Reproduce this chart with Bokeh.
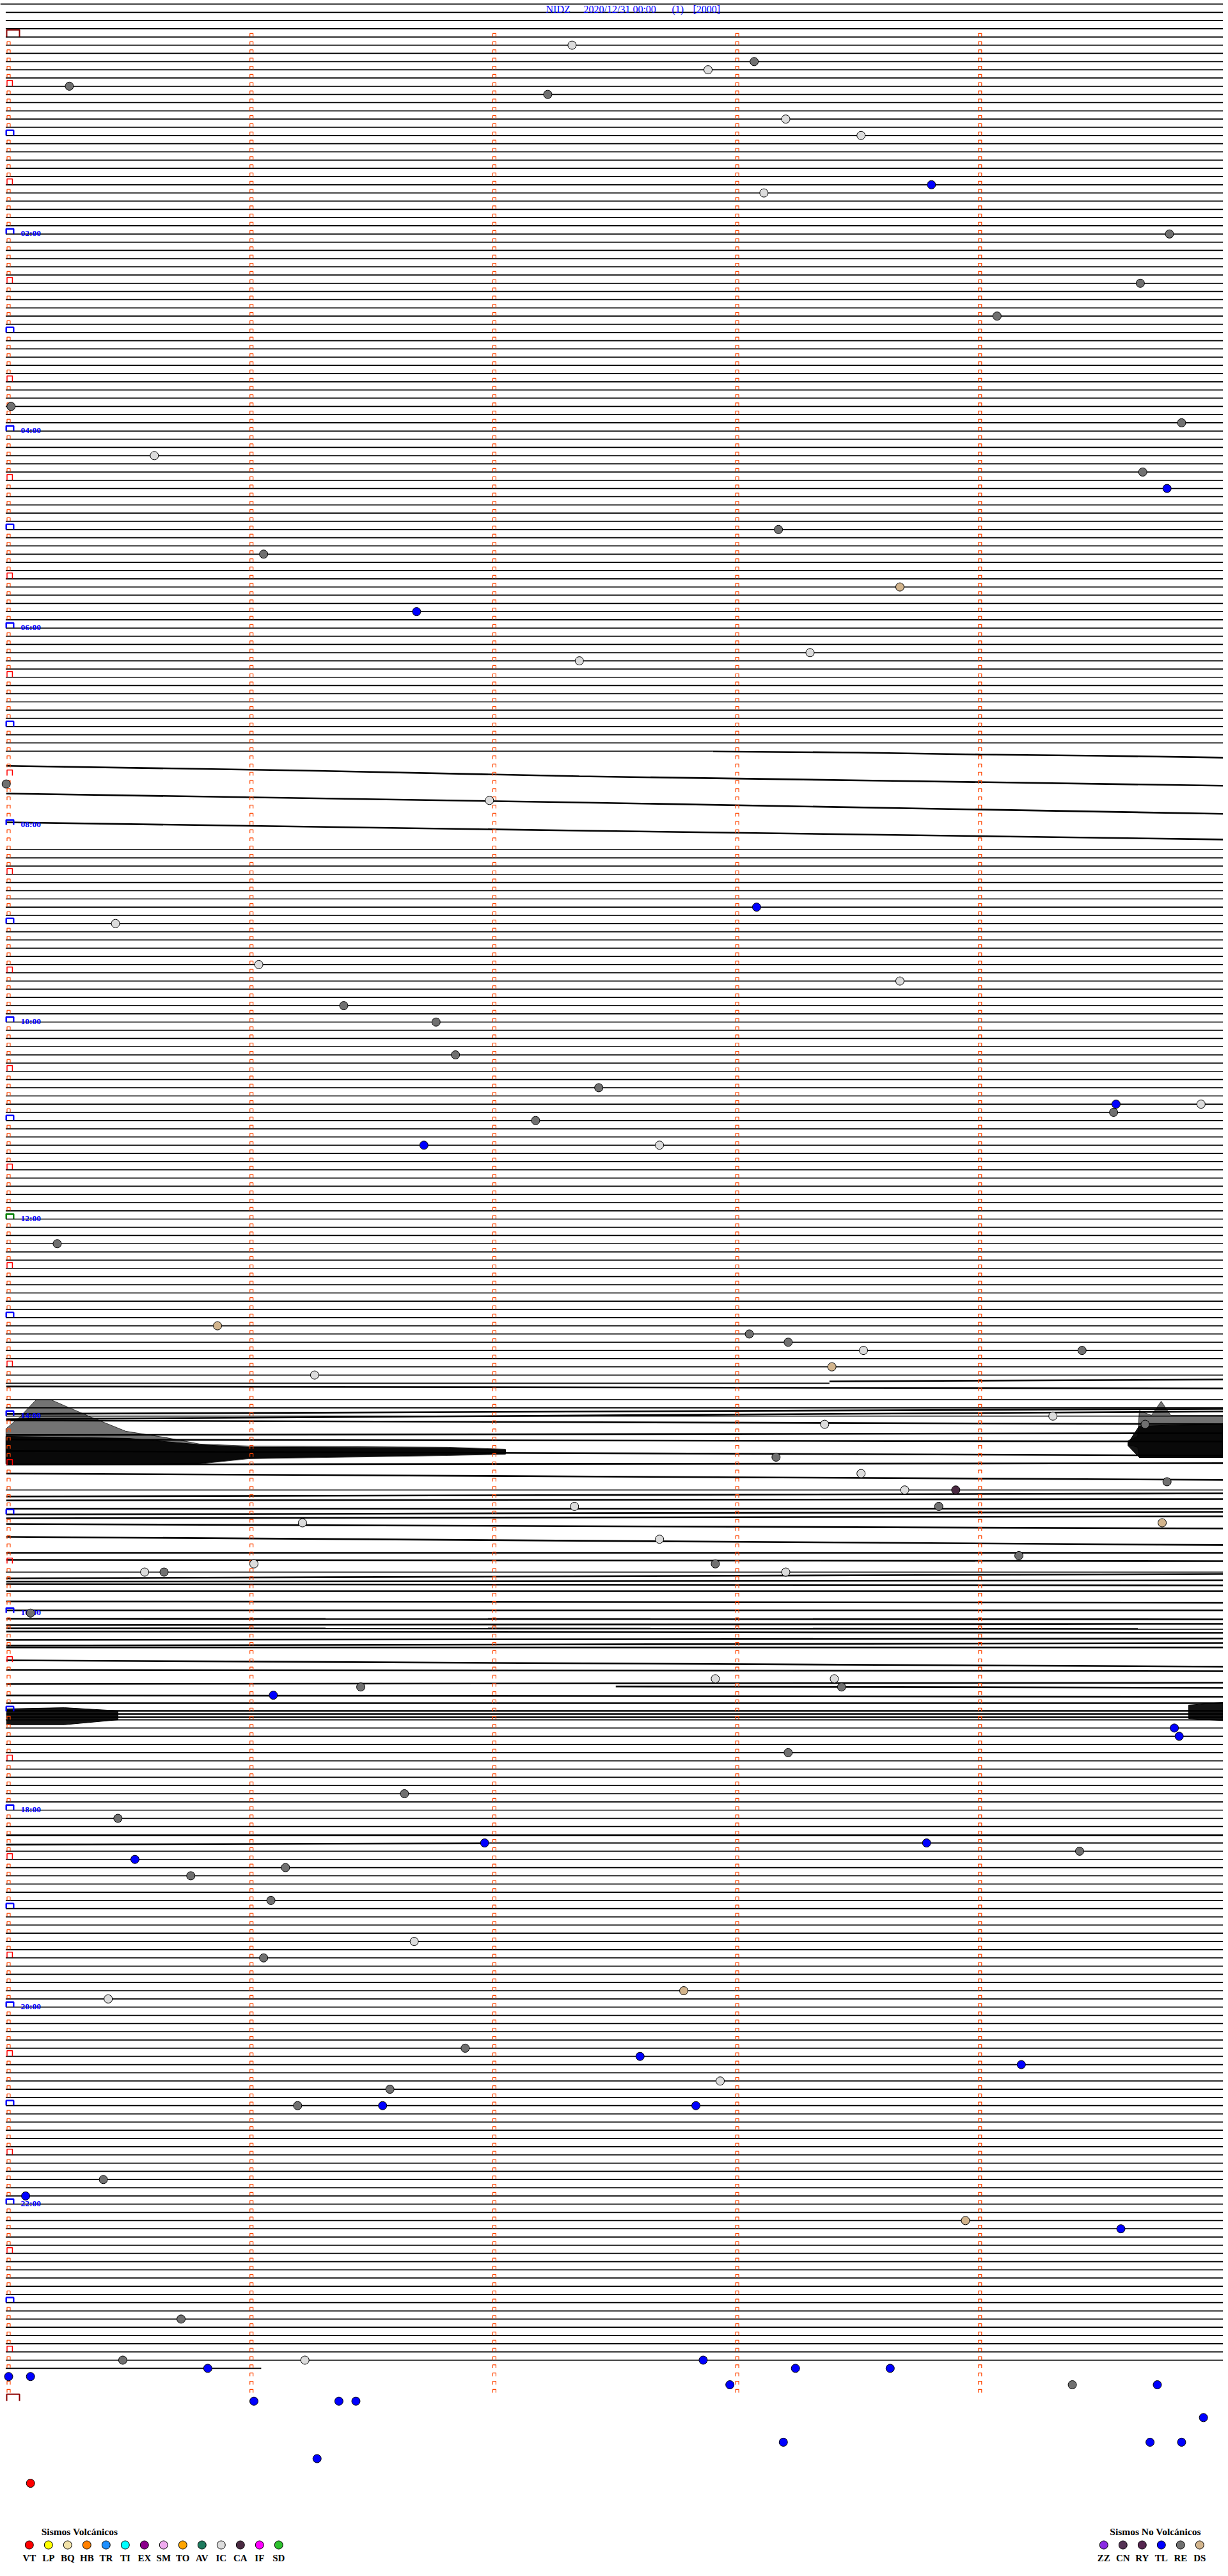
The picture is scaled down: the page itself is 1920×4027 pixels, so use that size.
from bokeh.plotting import figure
from bokeh.models import Range1d, ColumnDataSource
from bokeh.embed import file_html
from bokeh.resources import INLINE
from bokeh.core.properties import value

# ---------------- data ----------------
station = "NIDZ"
date_label = "2020/12/31 00:00"
page_label = "(1)"
scale_label = "[2000]"

hour_rows = [24, 48, 72, 96, 120, 144, 168, 192, 216, 240, 264]
hour_labels = ["02:00", "04:00", "06:00", "08:00", "10:00", "12:00",
               "14:00", "16:00", "18:00", "20:00", "22:00"]

FIRST_ROW, LAST_ROW = -4, 284      # rows (5 min each) that carry a trace
MARK_ROWS = 288                     # rows with minute ticks
LAST_ROW_END_MIN = 1.04             # data stops at 23:41

# rows whose trace is not flat (drawn as noisy traces below)
removed_rows = (set(range(88, 99)) | {165} | set(range(169, 177)) |
                set(range(178, 187)) | set(range(188, 205)) | {219})
partial_rows = {87: (None, 2.9), 164: (None, 3.38), 220: (1.98, None),
                284: (None, LAST_ROW_END_MIN)}

# noisy traces: (minutes, row position)
noisy_traces = [
    ([2.9, 3.5, 4.0, 4.5, 5.03], [87.04, 87.17, 87.41, 87.56, 87.80]),
    ([-0.01, 1.2, 2.35, 3.6, 5.03], [88.79, 89.35, 90.06, 90.60, 91.22]),
    ([-0.01, 2.35, 5.03], [92.16, 93.25, 94.65]),
    ([-0.01, 2.35, 5.03], [95.67, 96.68, 97.77]),
    ([3.38, 5.03], [163.77, 163.54]),
    ([-0.01, 5.03], [164.39, 164.63]),
    ([-0.01, 5.03], [168.37, 167.43]),
    ([-0.01, 5.03], [167.74, 167.12]),
    ([-0.01, 5.03], [168.52, 168.99]),
    ([-0.01, 5.03], [170.31, 170.08]),
    ([-0.01, 5.03], [170.86, 171.10]),
    ([-0.01, 5.03], [172.26, 172.81]),
    ([-0.01, 5.03], [173.90, 173.74]),
    ([-0.01, 5.03], [174.99, 175.77]),
    ([-0.01, 5.03], [177.80, 177.41]),
    ([-0.01, 5.03], [178.27, 178.11]),
    ([-0.01, 5.03], [179.28, 179.28]),
    ([-0.01, 5.03], [179.98, 179.67]),
    ([-0.01, 5.03], [180.45, 180.22]),
    ([-0.01, 5.03], [181.15, 181.70]),
    ([-0.01, 5.03], [182.71, 183.72]),
    ([-0.01, 5.03], [184.66, 184.66]),
    ([-0.01, 5.03], [185.51, 185.67]),
    ([-0.01, 5.03], [187.77, 187.23]),
    ([-0.01, 5.03], [188.16, 188.01]),
    ([-0.01, 5.03], [188.47, 188.63]),
    ([-0.01, 5.03], [189.33, 189.33]),
    ([-0.01, 5.03], [190.58, 190.73]),
    ([-0.01, 5.03], [191.67, 191.67]),
    ([-0.01, 5.03], [192.68, 192.76]),
    ([-0.01, 5.03], [193.46, 193.30]),
    ([-0.01, 5.03], [193.85, 193.93]),
    ([-0.01, 5.03], [194.24, 194.40]),
    ([-0.01, 5.03], [195.25, 195.10]),
    ([-0.01, 5.03], [195.96, 195.64]),
    ([-0.01, 5.03], [196.19, 196.19]),
    ([-0.01, 5.03], [197.75, 198.53]),
    ([-0.01, 5.03], [198.92, 199.07]),
    ([-0.01, 5.03], [200.63, 200.48]),
    ([2.5, 5.03], [200.94, 201.10]),
    ([-0.01, 5.03], [202.03, 202.19]),
    ([-0.01, 5.03], [202.97, 202.97]),
    ([-0.01, 5.03], [203.90, 203.90]),
    ([-0.01, 5.03], [204.29, 204.29]),
    ([-0.01, 5.03], [204.68, 204.68]),
    ([-0.01, 5.03], [219.05, 219.05]),
    ([-0.01, 1.98], [220.20, 220.04]),
]

# tremor bursts: outer (spiky) envelopes and dense cores (minutes, rows)
burst_outer = [
    ([-0.011, 0.045, 0.113, 0.176, 0.248, 0.353, 0.482, 0.648, 0.787, 0.988, 1.809, 2.046,
      2.046, 1.809, 0.988, 0.787, -0.011],
     [169.54, 168.13, 166.03, 166.03, 166.96, 168.29, 169.84, 170.62, 171.40, 171.64, 171.79, 172.03,
      172.65, 172.81, 173.20, 173.82, 173.82]),
    ([4.609, 4.649, 4.656, 4.706, 4.746, 4.785, 5.03, 5.03, 4.656, 4.649, 4.609],
     [171.0, 170.47, 167.35, 167.90, 166.19, 167.90, 167.90, 173.04, 173.04, 171.79, 171.48]),
]
burst_core = [
    ([-0.011, 0.4925, 0.787, 0.988, 1.809, 2.046, 2.046, 1.809, 0.988, 0.787, -0.011],
     [170.47, 170.71, 171.48, 171.79, 171.87, 172.11, 172.58, 172.73, 173.12, 173.74, 173.82]),
    ([4.609, 4.656, 5.03, 5.03, 4.656, 4.609],
     [171.3, 169.2, 169.0, 173.04, 173.04, 171.6]),
    ([-0.008, 0.229, 0.450, 0.450, 0.229, -0.008],
     [203.67, 203.52, 203.90, 205.0, 205.6, 205.6]),
    ([4.859, 5.03, 5.03, 4.859], [203.2, 202.82, 205.15, 204.84]),
]

# events: row (5-min line), minute within the line, type
ev_row = [1, 6, 7, 4, 3, 10, 12, 18, 19, 24,
          30, 34, 45, 47, 51, 53, 55, 60, 63, 67,
          70, 76, 75, 91, 93, 106, 108, 113, 115, 118,
          120, 124, 128, 132, 130, 131, 130, 135, 135, 147,
          157, 158, 159, 160, 160, 162, 163, 168, 169, 169,
          173, 175, 176, 177, 177, 179, 179, 181, 181, 183,
          185, 186, 186, 187, 187, 187, 192, 200, 200, 201,
          201, 202, 206, 207, 209, 214, 217, 220, 220, 221,
          222, 223, 224, 227, 232, 234, 239, 238, 245, 246,
          247, 249, 250, 252, 252, 252, 261, 263, 266, 267,
          278, 283, 283, 283, 284, 284, 284, 285, 285, 286,
          286, 286, 288, 288, 288, 290, 293, 293, 293, 295, 298]
ev_min = [2.32, 0.25, 2.22, 2.88, 3.07, 3.20, 3.51, 3.80, 3.11, 4.78,
          4.66, 4.07, 0.01, 4.83, 0.60, 4.67, 4.77, 3.17, 1.05, 3.67,
          1.68, 2.35, 3.30, -0.01, 1.98, 3.08, 0.44, 1.03, 3.67, 1.38,
          1.76, 1.84, 2.43, 2.17, 4.56, 4.55, 4.91, 1.71, 2.68, 0.20,
          0.86, 3.05, 3.21, 3.52, 4.42, 3.39, 1.26, 4.30, 3.36, 4.68,
          3.16, 3.51, 4.77, 3.69, 3.90, 3.83, 2.33, 4.75, 1.21, 2.68,
          4.16, 1.01, 2.91, 0.56, 0.64, 3.20, 0.09, 2.91, 3.40, 1.45,
          3.43, 1.09, 4.80, 4.82, 3.21, 1.63, 0.45, 1.96, 3.78, 4.41,
          0.52, 1.14, 0.75, 1.08, 1.67, 1.05, 0.41, 2.78, 1.88, 2.60,
          4.17, 2.93, 1.57, 1.19, 1.54, 2.83, 0.39, 0.07, 3.94, 4.58,
          0.71, 0.47, 1.22, 2.86, 0.82, 3.24, 3.63, 0.00, 0.09, 2.97,
          4.38, 4.73, 1.01, 1.36, 1.43, 4.92, 3.19, 4.70, 4.83, 1.27, 0.09]
ev_type = ("IC RE RE IC RE IC IC TL IC RE "
           "RE RE RE RE IC RE TL RE RE DS "
           "TL IC IC RE IC TL IC IC IC RE "
           "RE RE RE RE TL RE IC TL IC RE "
           "DS RE RE IC RE DS IC IC IC RE "
           "RE IC RE IC CA RE IC DS IC IC "
           "RE IC RE IC RE IC RE IC IC RE "
           "RE TL TL TL RE RE RE TL TL RE "
           "TL RE RE RE IC RE IC DS RE TL "
           "TL IC RE RE TL TL RE TL DS TL "
           "RE RE IC TL TL TL TL TL TL TL "
           "RE TL TL TL TL TL TL TL TL TL VT").split()

vol_codes = ["VT", "LP", "BQ", "HB", "TR", "TI", "EX", "SM", "TO", "AV", "IC", "CA", "IF", "SD"]
vol_colors = ["#ff0000", "#ffff00", "#f2e2a8", "#ff8000", "#1e90ff", "#00ffff", "#8b008b",
              "#eeaaee", "#ffa500", "#1e7a5e", "#dcdcdc", "#4a2a42", "#ff00ff", "#2ec02e"]
nonvol_codes = ["ZZ", "CN", "RY", "TL", "RE", "DS"]
nonvol_colors = ["#8a2be2", "#553355", "#55264f", "#0000ff", "#707070", "#d2b48c"]
vol_title = "Sismos Volcánicos"
nonvol_title = "Sismos No Volcánicos"

# ---------------- layout (pixel geometry of the page) ----------------
PX_M0, PX_PER_MIN = 13.0, 379.7
PY_R0, PX_PER_ROW = 57.3, 12.833
OFF, W, H = 0, 1912, 4019


def x_of(px):
    return (px - PX_M0) / PX_PER_MIN


def y_of(py):
    return (py - PY_R0) / PX_PER_ROW


T_START, T_END = -0.012, 5.03

p = figure(width=W, height=H, output_backend="svg", toolbar_location=None,
           x_range=Range1d(x_of(OFF), x_of(OFF + W)),
           y_range=Range1d(y_of(OFF + H), y_of(OFF)),
           x_axis_type=None, y_axis_type=None, min_border=0)
p.outline_line_color = None
p.background_fill_color = "white"
p.border_fill_color = "white"
for g in p.grid:
    g.visible = False

# flat traces
fx, fy = [], []
for r in range(FIRST_ROW, LAST_ROW + 1):
    if r in removed_rows:
        continue
    a, b = partial_rows.get(r, (None, None))
    a = (x_of(0) if r == FIRST_ROW else T_START) if a is None else a
    b = T_END if b is None else b
    fx.append([a, b])
    fy.append([r, r])
p.multi_line(xs=fx, ys=fy, line_color="black", line_width=1.7)

# noisy traces
p.multi_line(xs=[t[0] for t in noisy_traces], ys=[t[1] for t in noisy_traces],
             line_color="black", line_width=2.6)

# bursts
p.patches(xs=[b[0] for b in burst_outer], ys=[b[1] for b in burst_outer],
          fill_color="black", fill_alpha=0.55, line_color="black", line_width=1, line_alpha=0.7)
p.patches(xs=[b[0] for b in burst_core], ys=[b[1] for b in burst_core],
          fill_color="black", fill_alpha=0.92, line_color="black", line_width=1)


# minute tick marks (open-bottom boxes)
def cap(xc_px_off, m, r, wpx, hpx):
    xc = m + xc_px_off / PX_PER_MIN
    x0, x1 = xc - wpx / 2 / PX_PER_MIN, xc + wpx / 2 / PX_PER_MIN
    yb, yt = r - 0.03, r - hpx / PX_PER_ROW
    return [x0, x0, x1, x1], [yb, yt, yt, yb]


groups = {"orange": ([], []), "blue": ([], []), "red": ([], []), "dark": ([], []), "green": ([], [])}
for r in range(MARK_ROWS + 1):
    if r == 0 or r == MARK_ROWS:
        xs, ys = cap(7.0, 0, r, 20, 11)
        groups["dark"][0].append(xs); groups["dark"][1].append(ys)
    elif r % 12 == 0:
        key = "green" if r == 144 else "blue"
        xs, ys = cap(2.0, 0, r, 11.5, 8)
        groups[key][0].append(xs); groups[key][1].append(ys)
    elif r % 12 == 6:
        xs, ys = cap(1.7, 0, r, 8.4, 9)
        groups["red"][0].append(xs); groups["red"][1].append(ys)
    else:
        xs, ys = cap(0, 0, r, 5, 5.5)
        groups["orange"][0].append(xs); groups["orange"][1].append(ys)
    if r < MARK_ROWS:
        for m in (1, 2, 3, 4):
            xs, ys = cap(0, m, r, 5, 5.5)
            groups["orange"][0].append(xs); groups["orange"][1].append(ys)

p.multi_line(xs=groups["orange"][0], ys=groups["orange"][1], line_color="#ff4500", line_width=1.2)
p.multi_line(xs=groups["red"][0], ys=groups["red"][1], line_color="#ff0000", line_width=1.5)
p.multi_line(xs=groups["blue"][0], ys=groups["blue"][1], line_color="#0000ff", line_width=2.5)
p.multi_line(xs=groups["green"][0], ys=groups["green"][1], line_color="#008000", line_width=2.5)
p.multi_line(xs=groups["dark"][0], ys=groups["dark"][1], line_color="#8b0000", line_width=2.0)

# hour labels
p.text(x=[x_of(32)] * len(hour_rows), y=[r - 0.08 for r in hour_rows], text=hour_labels,
       text_font=value("Liberation Serif"), text_font_style="bold",
       text_font_size="13.5px", text_color="#0000ff", text_baseline="alphabetic")

# header
p.text(x=[x_of(853), x_of(912), x_of(1050), x_of(1083)], y=[y_of(14)] * 4,
       text=[station, date_label, page_label, scale_label],
       text_font=value("Liberation Serif"), text_font_size="16px",
       text_color="#0000ff", text_baseline="middle")

# events
color_of = dict(zip(vol_codes, vol_colors))
color_of.update(dict(zip(nonvol_codes, nonvol_colors)))
src = ColumnDataSource(dict(x=ev_min, y=ev_row, c=[color_of[t] for t in ev_type]))
p.scatter("x", "y", source=src, size=13, fill_color="c", line_color="black", line_width=1)

# legends
LEG_CIRC_Y, LEG_LAB_Y, LEG_TIT_Y = y_of(3978), y_of(3998), y_of(3957)
vx = [x_of(45.3 + 30 * i) for i in range(len(vol_codes))]
nx = [x_of(1725.3 + 30 * i) for i in range(len(nonvol_codes))]
p.scatter(vx + nx, [LEG_CIRC_Y] * (len(vx) + len(nx)), size=13,
          fill_color=vol_colors + nonvol_colors, line_color="black", line_width=1)
p.text(vx + nx, [LEG_LAB_Y] * (len(vx) + len(nx)), text=vol_codes + nonvol_codes,
       text_font=value("Liberation Serif"), text_font_style="bold", text_font_size="15px",
       text_color="black", text_align="center", text_baseline="middle")
p.text([x_of(124), x_of(1806)], [LEG_TIT_Y, LEG_TIT_Y], text=[vol_title, nonvol_title],
       text_font=value("Liberation Serif"), text_font_style="bold", text_font_size="15.5px",
       text_color="black", text_align="center", text_baseline="middle")

open("out.html", "w").write(file_html(p, INLINE))
